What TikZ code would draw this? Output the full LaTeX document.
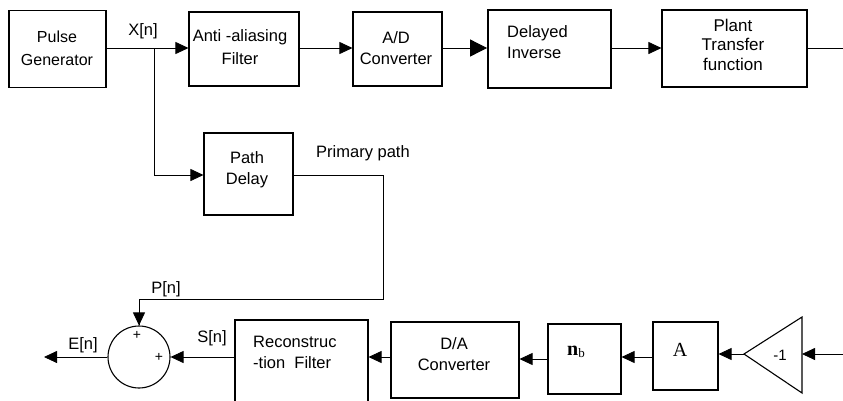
\documentclass[tikz,border=0pt]{standalone}
\usepackage{fontspec}
\setmainfont{Liberation Sans}
\newfontfamily\serifrm{Liberation Serif}
\usetikzlibrary{arrows.meta}
\begin{document}
\begin{tikzpicture}[x=1pt,y=-1pt,
  box/.style={draw, line width=1.1pt, inner sep=0pt},
  txt/.style={font=\fontsize{16.5}{21}\selectfont, align=center, inner sep=0pt},
  ln/.style={line width=0.8pt},
  arr/.style={line width=0.8pt, -{Triangle[length=13pt,width=12pt]}},
  bigarr/.style={line width=0.8pt, -{Triangle[length=17pt,width=17pt]}}]
\useasboundingbox (0,0) rectangle (843,400);
% top row boxes
\node[box, minimum width=97pt, minimum height=77pt] (pg) at (57.5,49) {};
\node[txt, font=\fontsize{16}{22.5}\selectfont] (pgt) at (57,48.5) {Pulse\\Generator};
\node[box, minimum width=110pt, minimum height=74pt] (aa) at (244,49) {};
\node[txt, font=\fontsize{16.5}{23}\selectfont] (aat) at (240,47) {Anti -aliasing\\Filter};
\node[box, minimum width=89pt, minimum height=74pt] (ad) at (397.5,49) {};
\node[txt] (adt) at (396,48) {A/D\\Converter};
\node[box, line width=1.8pt, minimum width=123pt, minimum height=78pt] (di) at (549.5,49) {};
\node[txt, align=left, anchor=west] (dit) at (507,42.5) {Delayed\\Inverse};
\node[box, minimum width=145pt, minimum height=77pt] (pt) at (734.5,48.5) {};
\node[txt, font=\fontsize{17}{19.5}\selectfont] (ptt) at (733,44.5) {Plant\\Transfer\\function};
\node[box, minimum width=89pt, minimum height=82pt] (pd) at (248.5,174) {};
\node[txt] (pdt) at (247,170) {Path\\Delay};
% bottom row
\node[box, minimum width=133pt, minimum height=84pt] (rf) at (301.5,362) {};
\node[txt, align=left, anchor=west] (rft) at (253,352.5) {Reconstruc\\-tion~ Filter};
\node[box, minimum width=128pt, minimum height=76pt] (da) at (455,360) {};
\node[txt] (dat) at (454,354) {D/A\\Converter};
\node[box, minimum width=73pt, minimum height=70pt] (nb) at (584.5,359) {};
\node[inner sep=0pt] (nbt) at (576,352) {\serifrm\fontsize{20}{20}\selectfont\textbf{n}\raisebox{-2pt}{\fontsize{13}{13}\selectfont b}};
\node[box, minimum width=65pt, minimum height=68pt] (am) at (685.5,356) {};
\node[inner sep=0pt] (amt) at (680,350) {\serifrm\fontsize{20}{20}\selectfont A};
\node[draw, circle, line width=1.1pt, minimum size=62pt, inner sep=0pt] (sum) at (139,357) {};
\node[txt, font=\fontsize{14}{14}\selectfont] (p1) at (137,335) {+};
\node[txt, font=\fontsize{14}{14}\selectfont] (p2) at (159,357) {+};
% gain triangle
\coordinate (gt) at (744,354);
\coordinate (gb) at (802,354);
\draw[line width=1.1pt] (gt) -- (802,317) -- (802,393) -- cycle;
\node[txt, font=\fontsize{15}{15}\selectfont] (gk) at (780,355) {-1};
% labels
\node[txt] (xl) at (143,31) {X[n]};
\node[txt] (ppl) at (363,153) {Primary path};
\node[txt] (pl) at (166,289) {P[n]};
\node[txt] (el) at (83,345) {E[n]};
\node[txt] (sl) at (212,338) {S[n]};
% coordinates
\coordinate (br) at (154,48);
\coordinate (outT) at (843,48);
\coordinate (c1) at (383,175);
\coordinate (c2) at (383,299);
\coordinate (eout) at (44,357);
\coordinate (inB) at (843,354);
% connectors top
\draw[arr] (pg.east |- br) -- (aa.west |- br);
\draw[arr] (aa.east |- br) -- (ad.west |- br);
\draw[bigarr] (ad.east |- br) -- (di.west |- br);
\draw[arr] (di.east |- br) -- (pt.west |- br);
\draw[ln] (pt.east |- outT) -- (outT);
\draw[arr] (br) |- (pd.west |- c1);
\draw[ln] (pd.east |- c1) -- (c1) -- (c2) -| (sum.north);
\draw[arr] (c2 -| sum.north) -- (sum.north);
% connectors bottom
\draw[arr] (inB) -- (gb);
\draw[arr] (gt) -- (am.east |- gt);
\draw[arr] (am.west |- 0,357) -- (nb.east |- 0,357);
\draw[arr] (nb.west |- 0,359) -- (da.east |- 0,359);
\draw[arr] (da.west |- 0,357) -- (rf.east |- 0,357);
\draw[arr] (rf.west |- sum.east) -- (sum.east);
\draw[arr] (sum.west) -- (eout);
\end{tikzpicture}
\end{document}
